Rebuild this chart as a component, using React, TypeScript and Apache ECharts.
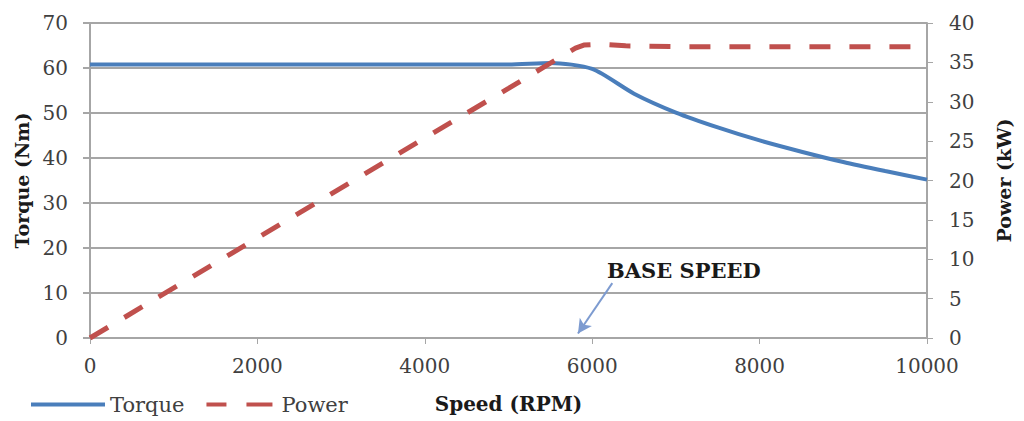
import React, { useEffect, useRef } from "react";
import * as echarts from "echarts";

const torqueData: [number, number][] = [
  [0, 60.8], [1000, 60.8], [2000, 60.8], [3000, 60.8], [4000, 60.8], [5000, 60.8],
  [5500, 61.1], [6000, 59.8], [6500, 54.3], [7000, 50.1], [7500, 46.8], [8000, 43.9],
  [8500, 41.4], [9000, 39.1], [9500, 37.1], [10000, 35.2],
];
const powerData: [number, number][] = [
  [0, 0], [2000, 12.7], [4000, 25.4], [5000, 31.7], [5500, 34.9], [5800, 36.8],
  [5900, 37.2], [6100, 37.3], [6400, 37.1], [7000, 37.0], [8000, 37.0], [9000, 37.0], [10000, 37.0],
];
const xTicks = { min: 0, max: 10000, interval: 2000 };
const torqueTicks = { min: 0, max: 70, interval: 10 };
const powerTicks = { min: 0, max: 40, interval: 5 };
const arrowFrom: [number, number] = [6240, 12.2];
const arrowTo: [number, number] = [5830, 1.0];

const FONT = "DejaVu Serif";
const AXIS_COLOR = "#a6a6a6";
const LABEL_COLOR = "#404040";
const TORQUE_COLOR = "#4a7ebb";
const POWER_COLOR = "#c0504d";

export default function App() {
  const ref = useRef<HTMLDivElement>(null);
  useEffect(() => {
    if (!ref.current) return;
    const chart = echarts.init(ref.current, null, { renderer: "svg" });
    chart.setOption({
      animation: false,
      backgroundColor: "#ffffff",
      grid: { left: 90, right: 97, top: 23, bottom: 83, containLabel: false },
      legend: {
        left: 26,
        top: 389,
        itemWidth: 74,
        itemHeight: 4,
        itemGap: 22,
        textStyle: { fontFamily: FONT, fontSize: 21, color: LABEL_COLOR },
        data: [
          { name: "Torque", icon: "rect", itemStyle: { color: TORQUE_COLOR } },
          {
            name: "Power",
            icon: "path://M0,0H20V4H0Z M40,0H66V4H40Z",
            itemStyle: { color: POWER_COLOR },
          },
        ],
      },
      xAxis: {
        type: "value",
        min: xTicks.min,
        max: xTicks.max,
        interval: xTicks.interval,
        name: "Speed (RPM)",
        nameLocation: "middle",
        nameGap: 56,
        nameTextStyle: { fontFamily: FONT, fontSize: 20, fontWeight: "bold", color: "#1a1a1a" },
        axisLine: { show: true, lineStyle: { color: AXIS_COLOR, width: 2 } },
        axisTick: { show: true, length: 6, lineStyle: { color: AXIS_COLOR, width: 1 } },
        axisLabel: {
          fontFamily: FONT,
          fontSize: 20,
          color: LABEL_COLOR,
          margin: 18,
          formatter: (v: number) => String(v),
        },
        splitLine: { show: false },
      },
      yAxis: [
        {
          type: "value",
          position: "left",
          min: torqueTicks.min,
          max: torqueTicks.max,
          interval: torqueTicks.interval,
          name: "Torque (Nm)",
          nameLocation: "middle",
          nameGap: 58,
          nameTextStyle: { fontFamily: FONT, fontSize: 19, fontWeight: "bold", color: "#1a1a1a" },
          axisLine: { show: true, lineStyle: { color: AXIS_COLOR, width: 2 } },
          axisTick: { show: true, length: 7, lineStyle: { color: AXIS_COLOR, width: 2 } },
          axisLabel: { fontFamily: FONT, fontSize: 20, color: LABEL_COLOR, margin: 22 },
          splitLine: { show: true, lineStyle: { color: AXIS_COLOR, width: 2 } },
        },
        {
          type: "value",
          position: "right",
          min: powerTicks.min,
          max: powerTicks.max,
          interval: powerTicks.interval,
          name: "Power (kW)",
          nameLocation: "middle",
          nameGap: 67,
          nameTextStyle: { fontFamily: FONT, fontSize: 19, fontWeight: "bold", color: "#1a1a1a" },
          axisLine: { show: true, lineStyle: { color: AXIS_COLOR, width: 2 } },
          axisTick: { show: true, length: 6, lineStyle: { color: AXIS_COLOR, width: 1 } },
          axisLabel: { fontFamily: FONT, fontSize: 20, color: LABEL_COLOR, margin: 22 },
          splitLine: { show: false },
        },
      ],
      series: [
        {
          name: "Torque",
          type: "line",
          yAxisIndex: 0,
          data: torqueData,
          symbol: "none",
          smooth: 0.25,
          lineStyle: { color: TORQUE_COLOR, width: 4 },
          itemStyle: { color: TORQUE_COLOR },
          z: 3,
          markLine: {
            silent: true,
            symbol: ["none", "arrow"],
            symbolSize: [11, 14],
            label: { show: false },
            lineStyle: { color: "#7d9bd0", width: 2, type: "solid" },
            data: [[{ coord: arrowFrom }, { coord: arrowTo }]],
          },
        },
        {
          name: "Power",
          type: "line",
          yAxisIndex: 1,
          data: powerData,
          symbol: "none",
          smooth: false,
          lineStyle: { color: POWER_COLOR, width: 5, type: [21, 19] },
          itemStyle: { color: POWER_COLOR },
          z: 4,
        },
      ],
      graphic: [
        {
          type: "text",
          left: 607,
          top: 260,
          style: {
            text: "BASE SPEED",
            font: `bold 21px "${FONT}"`,
            fill: "#1a1a1a",
          },
        },
      ],
    });
    return () => chart.dispose();
  }, []);
  return (
    <div
      ref={ref}
      style={{ position: "fixed", left: 0, top: 0, width: 1024, height: 421 }}
    />
  );
}
